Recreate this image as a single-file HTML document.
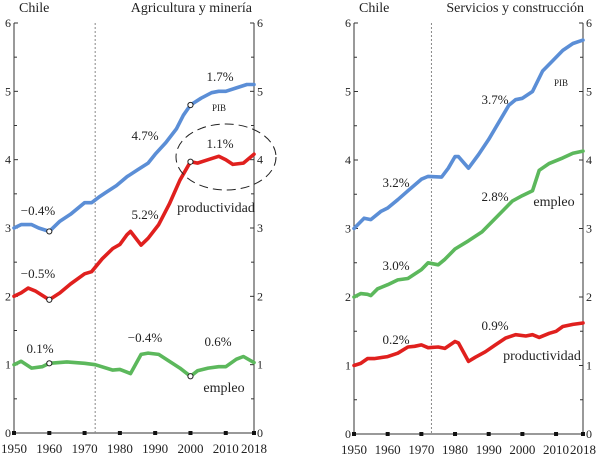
<!DOCTYPE html>
<html><head><meta charset="utf-8"><style>
body{margin:0;background:#fff;}
svg{display:block;font-family:"Liberation Serif",serif;}
</style></head><body>
<svg id="chart" width="600" height="456" viewBox="0 0 600 456"></svg>
<script>
const leftYears=[1950,1952,1955,1957,1960,1963,1966,1970,1972,1974,1976,1979,1982,1985,1988,1990,1993,1996,1998,2000,2003,2006,2008,2010,2013,2016,2018];
const leftPib=[3.0,3.05,3.05,3.0,2.95,3.1,3.2,3.37,3.37,3.45,3.52,3.62,3.75,3.85,3.95,4.08,4.25,4.45,4.65,4.8,4.9,4.98,5.0,5.0,5.05,5.1,5.1];
const leftProdYears=[1950,1952,1954,1956,1960,1963,1966,1970,1972,1975,1978,1980,1982,1983,1986,1988,1991,1994,1997,2000,2002,2005,2008,2010,2012,2015,2018];
const leftProd=[2.0,2.05,2.12,2.08,1.95,2.05,2.18,2.33,2.36,2.55,2.7,2.76,2.9,2.95,2.75,2.85,3.05,3.35,3.7,3.97,3.95,4.0,4.05,4.0,3.93,3.95,4.08];
const leftEmpYears=[1950,1952,1955,1958,1960,1965,1970,1973,1978,1980,1983,1986,1988,1991,1994,1997,2000,2002,2005,2008,2010,2013,2015,2018];
const leftEmp=[1.0,1.05,0.95,0.97,1.02,1.04,1.02,1.0,0.92,0.93,0.87,1.15,1.17,1.15,1.05,0.95,0.83,0.91,0.95,0.97,0.97,1.08,1.12,1.03];
const rightPibYears=[1950,1953,1955,1958,1960,1963,1966,1970,1972,1976,1978,1980,1981,1984,1987,1990,1993,1996,1998,2000,2003,2006,2009,2012,2015,2018];
const rightPib=[3.0,3.15,3.13,3.25,3.3,3.42,3.55,3.72,3.76,3.75,3.88,4.05,4.05,3.88,4.08,4.3,4.55,4.8,4.88,4.9,5.0,5.3,5.45,5.6,5.7,5.75];
const rightEmpYears=[1950,1952,1954,1955,1957,1960,1963,1966,1970,1972,1975,1977,1980,1984,1988,1991,1994,1997,2000,2003,2005,2008,2012,2015,2018];
const rightEmp=[2.0,2.05,2.04,2.02,2.12,2.18,2.25,2.27,2.4,2.5,2.47,2.55,2.7,2.82,2.95,3.1,3.25,3.4,3.48,3.55,3.85,3.95,4.03,4.1,4.13];
const rightProdYears=[1950,1952,1954,1956,1960,1963,1966,1968,1970,1972,1975,1977,1980,1981,1984,1986,1989,1992,1995,1998,2001,2003,2005,2008,2010,2012,2015,2018];
const rightProd=[1.0,1.03,1.1,1.1,1.13,1.18,1.27,1.28,1.3,1.26,1.27,1.25,1.35,1.33,1.06,1.12,1.2,1.3,1.4,1.45,1.43,1.45,1.41,1.47,1.5,1.57,1.6,1.62];
const xTicks=[1950,1960,1970,1980,1990,2000,2010,2018];
const yTicks=[0,1,2,3,4,5,6];

const svg=document.getElementById('chart');
const NS='http://www.w3.org/2000/svg';
function mk(tag,attrs,parent){const e=document.createElementNS(NS,tag);for(const k in attrs)e.setAttribute(k,attrs[k]);(parent||svg).appendChild(e);return e;}
function txt(x,y,s,anchor,size,name){const t=mk('text',{x:x,y:y,'text-anchor':anchor||'middle','font-size':size||13,fill:'#222'});t.textContent=s;


return t;}

function panel(p){
  const X=y=>p.x0+(y-1950)*(p.x1-p.x0)/68;
  const Y=v=>p.y0-v*(p.y0-p.y6)/6;
  const g=mk('g',{});
  
  
  // axes
  const ax=mk('path',{d:`M${p.x0},${p.y6}V${p.y0}H${p.x1}V${p.y6}`,stroke:'#333','stroke-width':1,fill:'none'},g);
  
  
  for(let v=0;v<=6;v+=0.5){const len=(v%1===0)?4:3;
    mk('line',{x1:p.x0,x2:p.x0+len,y1:Y(v),y2:Y(v),stroke:'#333'},g);
    mk('line',{x1:p.x1,x2:p.x1-len,y1:Y(v),y2:Y(v),stroke:'#333'},g);}
  yTicks.forEach(v=>{txt(p.x0-3,Y(v)+4,String(v),'end',12,'y-tick-left');txt(p.x1+3,Y(v)+4,String(v),'start',12,'y-tick-right');});
  xTicks.forEach(yr=>{const r=mk('rect',{x:X(yr)-2,y:p.y0-2,width:4,height:4,fill:'#111'},g);
    
    
    txt(X(yr),p.y0+20,String(yr),'middle',13,'x-tick-label');});
  const dl=mk('line',{x1:X(1973),x2:X(1973),y1:p.y6,y2:p.y0,stroke:'#888','stroke-dasharray':'2,2'},g);
  
  
  p.series.forEach(s=>{
    const d=s.years.map((yr,i)=>(i?'L':'M')+X(yr).toFixed(1)+','+Y(s.vals[i]).toFixed(1)).join('');
    const l=mk('path',{d:d,stroke:s.color,'stroke-width':3.6,fill:'none','stroke-linejoin':'round','stroke-linecap':'round'},g);
    
    
    (s.dots||[]).forEach(yr=>{const i=s.years.indexOf(yr);const c=mk('circle',{cx:X(yr),cy:Y(s.vals[i]),r:2.6,fill:'#fff',stroke:'#222','stroke-width':1},g);
      
      });
  });
  txt(p.x0+5,p.y6-11,'Chile','start',14,'country-title');
  txt(p.titleX,p.y6-11,p.title,'end',14,'panel-title');
  p.labels.forEach(l=>txt(l[0],l[1],l[2],l[3]||'middle',l[4]||13,l[5]));
  return {X,Y,g};
}
const blue='#5b8ed6',red='#e0201e',green='#5cb85c';
const L=panel({name:'panel-agricultura',x0:14,x1:254,y0:433,y6:23,title:'Agricultura y minería',titleX:252,
 series:[{name:'pib-line',years:leftYears,vals:leftPib,color:blue,dots:[1960,2000]},
 {name:'productividad-line',years:leftProdYears,vals:leftProd,color:red,dots:[1960,2000]},
 {name:'empleo-line',years:leftEmpYears,vals:leftEmp,color:green,dots:[1960,2000]}],
 labels:[[38,215,'−0.4%'],[38,278,'−0.5%'],[40,353,'0.1%'],[145,140,'4.7%'],[145,219,'5.2%'],[145,342,'−0.4%'],[220,81,'1.7%'],[220,148,'1.1%'],[218,346,'0.6%'],[219,111,'PIB','middle',9,'pib-label'],[216,212,'productividad','middle',14,'productividad-label'],[224,392,'empleo','middle',14,'empleo-label']]});
const el=mk('ellipse',{cx:226,cy:157,rx:50,ry:33,fill:'none',stroke:'#222','stroke-dasharray':'9,5','stroke-width':1});


const R=panel({name:'panel-servicios',x0:354,x1:583,y0:434,y6:23,title:'Servicios y construcción',titleX:584,
 series:[{name:'pib-line',years:rightPibYears,vals:rightPib,color:blue},
 {name:'empleo-line',years:rightEmpYears,vals:rightEmp,color:green},
 {name:'productividad-line',years:rightProdYears,vals:rightProd,color:red}],
 labels:[[396,187,'3.2%'],[396,270,'3.0%'],[396,344,'0.2%'],[495,104,'3.7%'],[495,201,'2.8%'],[495,330,'0.9%'],[561,86,'PIB','middle',9,'pib-label'],[554,206,'empleo','middle',14,'empleo-label'],[542,360,'productividad','middle',14,'productividad-label']]});
</script>
</body></html>
